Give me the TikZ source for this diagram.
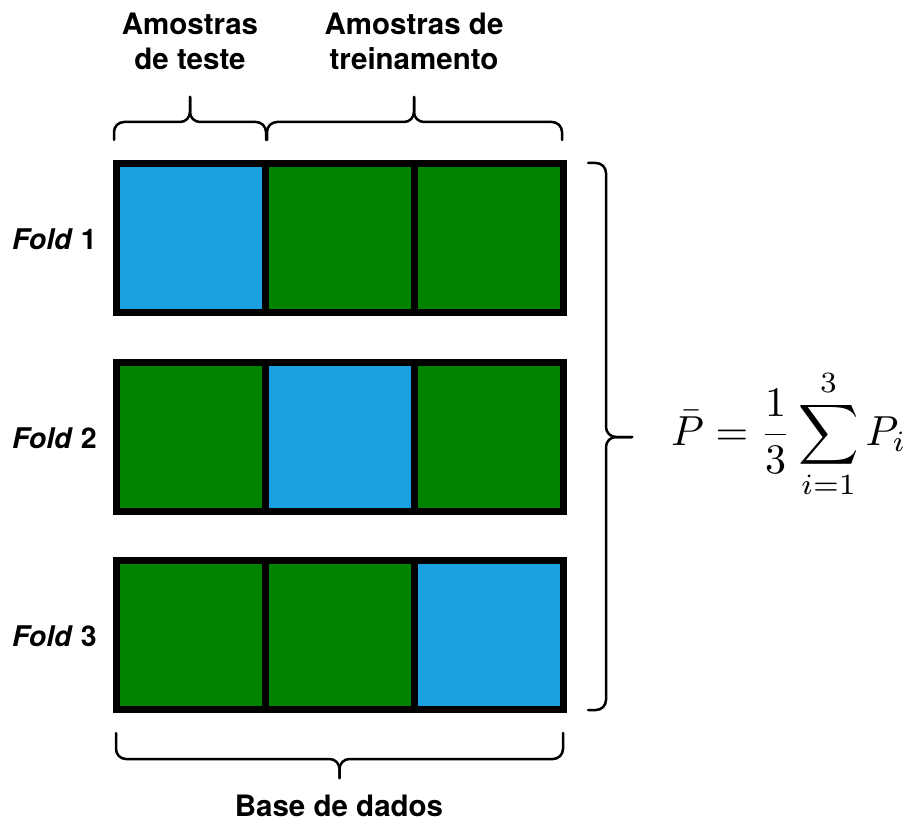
\documentclass[tikz,border=0pt]{standalone}
\usepackage{graphicx}
\usepackage{fontspec}
\newfontfamily\heros{TeX Gyre Heros}
\definecolor{cellblue}{RGB}{29,160,226}
\definecolor{cellgreen}{RGB}{0,132,0}
\begin{document}
\begin{tikzpicture}[x=1pt,y=-1pt,
  cell/.style={draw=black, line width=7pt, minimum width=149pt, minimum height=149pt, inner sep=0pt, outer sep=0pt},
  testcell/.style={cell, fill=cellblue},
  traincell/.style={cell, fill=cellgreen},
  lbl/.style={font=\heros\bfseries\fontsize{29.5}{35}\selectfont, align=center, inner sep=0pt},
  foldlbl/.style={font=\heros\bfseries\fontsize{28.5}{32}\selectfont, inner sep=0pt, anchor=east},
  brc/.style={line width=2.5pt, rounded corners=10pt, line cap=round}]
\useasboundingbox (0,0) rectangle (911,821);

% row 1
\node[testcell]  (r1c1) at (191,238) {};
\node[traincell] (r1c2) at (340,238) {};
\node[traincell] (r1c3) at (489,238) {};
% row 2
\node[traincell] (r2c1) at (191,437) {};
\node[testcell]  (r2c2) at (340,437) {};
\node[traincell] (r2c3) at (489,437) {};
% row 3
\node[traincell] (r3c1) at (191,635) {};
\node[traincell] (r3c2) at (340,635) {};
\node[testcell]  (r3c3) at (489,635) {};

% fold labels
\node[foldlbl] (f1) at (97,239) {\itshape Fold\/ \upshape 1};
\node[foldlbl] (f2) at (97,438) {\itshape Fold\/ \upshape 2};
\node[foldlbl] (f3) at (97,636) {\itshape Fold\/ \upshape 3};

% top labels
\node[lbl] (teste) at (190,41) {Amostras\\de teste};
\node[lbl] (trein) at (414,41) {Amostras de\\treinamento};
\node[lbl, anchor=base] (base) at (339,816) {Base de dados};

% top braces
\draw[brc] (114,140) -- (114,122) -- (190,122) -- (190,97);
\draw[brc] (266,140) -- (266,122) -- (190,122) -- (190,97);
\draw[brc] (267,140) -- (267,122) -- (414,122) -- (414,97);
\draw[brc] (562,140) -- (562,122) -- (414,122) -- (414,97);

% bottom brace
\draw[brc] (116,733) -- (116,759) -- (339.5,759) -- (339.5,778);
\draw[brc] (563,733) -- (563,759) -- (339.5,759) -- (339.5,778);

% right brace
\draw[brc] (588,163) -- (606,163) -- (606,437) -- (632,437);
\draw[brc] (588,710) -- (606,710) -- (606,437) -- (632,437);

% formula
\node[anchor=base west, inner sep=0pt] (eq) at (671,445)
  {\scalebox{4.2}{$\displaystyle \bar{P} = \frac{1}{3}\sum_{i=1}^{3} P_i$}};
\end{tikzpicture}
\end{document}
